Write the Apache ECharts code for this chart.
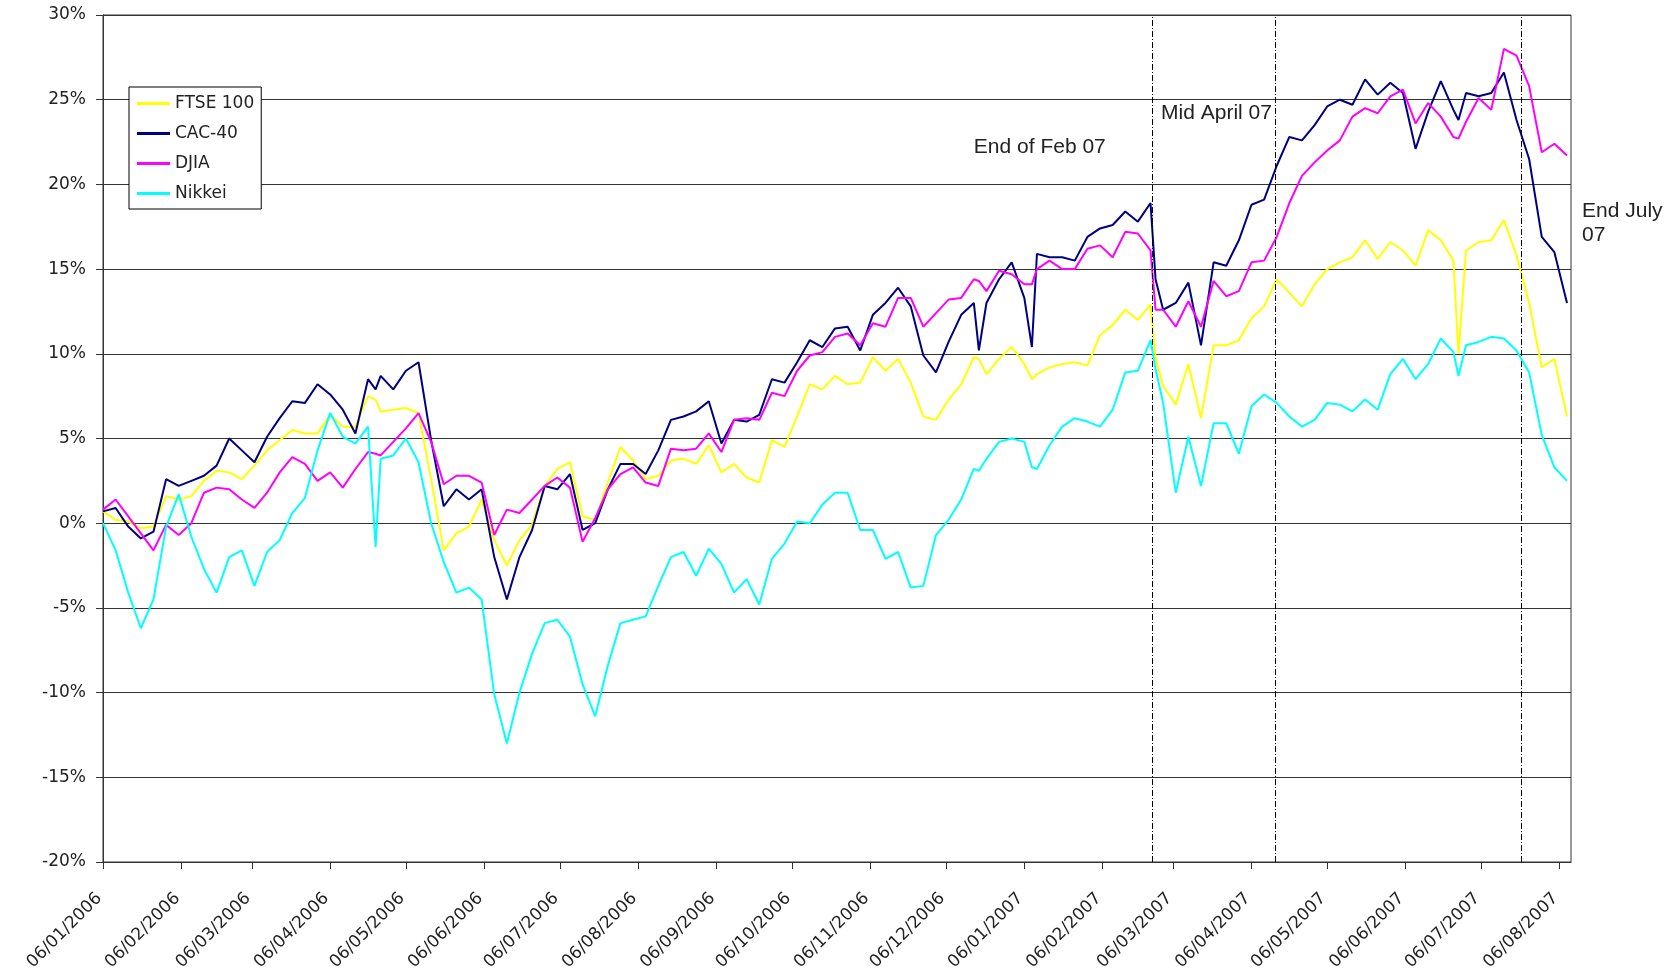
<!DOCTYPE html>
<html><head><meta charset="utf-8">
<script src="https://cdn.jsdelivr.net/npm/echarts@6/dist/echarts.min.js"></script>
<style>html,body{margin:0;padding:0;background:#fff}#c{width:1668px;height:972px}</style>
</head><body><div id="c"></div>
<script>
// ---- data ----
const dates = [
 '2006-01-06','2006-01-11','2006-01-16','2006-01-21','2006-01-26','2006-01-31',
 '2006-02-05','2006-02-10','2006-02-15','2006-02-20','2006-02-25',
 '2006-03-02','2006-03-07','2006-03-12','2006-03-17','2006-03-22','2006-03-27',
 '2006-04-01','2006-04-06','2006-04-11','2006-04-16','2006-04-21','2006-04-24','2006-04-26',
 '2006-05-01','2006-05-06','2006-05-11','2006-05-16','2006-05-21','2006-05-26','2006-05-31',
 '2006-06-05','2006-06-10','2006-06-15','2006-06-20','2006-06-25','2006-06-30',
 '2006-07-05','2006-07-10','2006-07-15','2006-07-20','2006-07-25','2006-07-30',
 '2006-08-04','2006-08-09','2006-08-14','2006-08-19','2006-08-24','2006-08-29',
 '2006-09-03','2006-09-08','2006-09-13','2006-09-18','2006-09-23','2006-09-28',
 '2006-10-03','2006-10-08','2006-10-13','2006-10-18','2006-10-23','2006-10-28',
 '2006-11-02','2006-11-07','2006-11-12','2006-11-17','2006-11-22','2006-11-27',
 '2006-12-02','2006-12-07','2006-12-12','2006-12-17','2006-12-19','2006-12-22','2006-12-27',
 '2007-01-01','2007-01-06','2007-01-09','2007-01-11','2007-01-16','2007-01-21','2007-01-26','2007-01-31',
 '2007-02-05','2007-02-10','2007-02-15','2007-02-20','2007-02-25','2007-02-27',
 '2007-03-02','2007-03-07','2007-03-12','2007-03-17','2007-03-22','2007-03-27',
 '2007-04-01','2007-04-06','2007-04-11','2007-04-16','2007-04-21','2007-04-26',
 '2007-05-01','2007-05-06','2007-05-11','2007-05-16','2007-05-21','2007-05-26','2007-05-31',
 '2007-06-05','2007-06-10','2007-06-15','2007-06-20','2007-06-25','2007-06-27','2007-06-30',
 '2007-07-05','2007-07-10','2007-07-15','2007-07-20','2007-07-25','2007-07-30',
 '2007-08-04','2007-08-09'
];
const ftse = [
 0.7,0.2,0.1,-0.3,-0.2,1.6,
 1.4,1.6,2.5,3.1,3.0,
 2.6,3.4,4.3,4.9,5.5,5.3,
 5.3,6.4,5.7,5.7,7.5,7.3,6.6,
 6.7,6.8,6.5,2.6,-1.6,-0.6,-0.2,
 1.4,-1.0,-2.5,-1.0,-0.1,2.2,
 3.2,3.6,0.4,0.2,2.4,4.5,
 3.7,2.6,2.8,3.7,3.8,3.5,
 4.6,3.0,3.5,2.7,2.4,4.9,
 4.5,6.3,8.2,7.9,8.7,8.2,
 8.3,9.8,9.0,9.7,8.3,6.3,
 6.1,7.3,8.2,9.8,9.7,8.8,9.7,
 10.4,9.4,8.5,8.8,9.2,9.4,9.5,9.3,
 11.1,11.7,12.6,12.0,12.9,9.8,
 8.1,7.0,9.4,6.2,10.5,10.5,
 10.8,12.1,12.8,14.4,13.6,12.8,
 14.1,15.0,15.4,15.7,16.7,15.6,16.6,
 16.1,15.2,17.3,16.7,15.5,10.0,16.1,
 16.6,16.7,17.9,15.8,13.0,9.2,
 9.7,6.3
];
const cac40 = [
 0.7,0.9,-0.2,-0.9,-0.5,2.6,
 2.2,2.5,2.8,3.4,5.0,
 4.3,3.6,5.1,6.2,7.2,7.1,
 8.2,7.6,6.7,5.3,8.5,7.9,8.7,
 7.9,9.0,9.5,4.9,1.0,2.0,1.4,
 2.0,-2.0,-4.5,-2.0,-0.4,2.2,
 2.0,2.9,-0.4,0.0,2.0,3.5,
 3.5,2.9,4.3,6.1,6.3,6.6,
 7.2,4.7,6.1,6.0,6.4,8.5,
 8.3,9.5,10.8,10.4,11.5,11.6,
 10.2,12.3,13.0,13.9,12.8,9.9,
 8.9,10.7,12.3,13.0,10.2,13.0,14.4,
 15.4,13.3,10.4,15.9,15.7,15.7,15.5,16.9,
 17.4,17.6,18.4,17.8,18.9,14.4,
 12.6,13.0,14.2,10.5,15.4,15.2,
 16.7,18.8,19.1,21.1,22.8,22.6,
 23.5,24.6,25.0,24.7,26.2,25.3,26.0,
 25.4,22.1,24.3,26.1,24.4,23.8,25.4,
 25.2,25.4,26.6,23.8,21.5,16.9,
 16.0,13.0
];
const djia = [
 0.8,1.4,0.4,-0.6,-1.6,-0.1,
 -0.7,0.0,1.8,2.1,2.0,
 1.4,0.9,1.8,3.0,3.9,3.5,
 2.5,3.0,2.1,3.2,4.2,4.1,4.0,
 4.8,5.6,6.5,4.8,2.3,2.8,2.8,
 2.4,-0.7,0.8,0.6,1.4,2.2,
 2.7,2.1,-1.1,0.3,2.0,2.9,
 3.3,2.4,2.2,4.4,4.3,4.4,
 5.3,4.2,6.1,6.2,6.1,7.7,
 7.5,9.0,9.9,10.1,11.0,11.2,
 10.5,11.8,11.6,13.3,13.3,11.6,
 12.4,13.2,13.3,14.4,14.3,13.7,14.9,
 14.7,14.1,14.1,15.0,15.5,15.0,15.0,16.2,
 16.4,15.7,17.2,17.1,16.1,12.6,
 12.6,11.6,13.1,11.6,14.3,13.4,
 13.7,15.4,15.5,16.9,18.9,20.5,
 21.3,22.0,22.6,24.0,24.5,24.2,25.2,
 25.6,23.6,24.8,24.0,22.8,22.7,23.7,
 25.1,24.4,28.0,27.6,25.8,21.9,
 22.4,21.7
];
const nikkei = [
 0.0,-1.6,-4.1,-6.2,-4.5,-0.2,
 1.7,-0.8,-2.7,-4.1,-2.0,
 -1.6,-3.7,-1.7,-1.0,0.6,1.5,
 4.3,6.5,5.1,4.7,5.7,-1.4,3.8,
 4.0,5.0,3.6,0.0,-2.3,-4.1,-3.8,
 -4.5,-10.1,-13.0,-10.0,-7.7,-5.9,
 -5.7,-6.7,-9.5,-11.4,-8.4,-5.9,
 -5.7,-5.5,-3.7,-2.0,-1.7,-3.1,
 -1.5,-2.4,-4.1,-3.3,-4.8,-2.1,
 -1.2,0.1,0.0,1.1,1.8,1.8,
 -0.4,-0.4,-2.1,-1.7,-3.8,-3.7,
 -0.7,0.2,1.4,3.2,3.1,3.8,4.8,
 5.0,4.8,3.3,3.2,4.6,5.7,6.2,6.0,
 5.7,6.7,8.9,9.0,10.8,9.1,
 7.1,1.8,5.1,2.2,5.9,5.9,
 4.1,6.9,7.6,7.1,6.3,5.7,
 6.1,7.1,7.0,6.6,7.3,6.7,8.8,
 9.7,8.5,9.4,10.9,10.1,8.7,10.5,
 10.7,11.0,10.9,10.2,8.9,5.2,
 3.3,2.5
];
const seriesNames = ['FTSE 100','CAC-40','DJIA','Nikkei'];
const seriesValues = [ftse, cac40, djia, nikkei];
const seriesColors = ['#FFFF00','#000080','#FF00FF','#00FFFF'];
const tickDates = [
 '2006-01-06','2006-02-06','2006-03-06','2006-04-06','2006-05-06','2006-06-06',
 '2006-07-06','2006-08-06','2006-09-06','2006-10-06','2006-11-06','2006-12-06',
 '2007-01-06','2007-02-06','2007-03-06','2007-04-06','2007-05-06','2007-06-06',
 '2007-07-06','2007-08-06'
];
const axisStart = '2006-01-06T00:00:00Z';
const axisEnd = '2007-08-10T14:00:00Z';
const yMin = -20, yMax = 30, yStep = 5;
const eventDates = ['2007-02-25T12:00:00Z','2007-04-15T07:00:00Z','2007-07-22T00:00:00Z'];
const annotations = [
 {text:'End of Feb 07', date:eventDates[0], value:22.2, align:'right', dx:-46},
 {text:'Mid April 07', date:eventDates[1], value:24.2, align:'right', dx:-3},
 {text:'End July\n07', date:axisEnd, value:17.7, align:'left', dx:11}
];

// ---- chart ----
const pad = n => (n < 10 ? '0' : '') + n;
const fmtDate = v => { const d = new Date(v); return pad(d.getUTCDate()) + '/' + pad(d.getUTCMonth()+1) + '/' + d.getUTCFullYear() + ' '; };
const tickValues = tickDates.map(d => Date.parse(d));
const AX = '#333';
const FONT = 'DejaVu Sans';

const chart = echarts.init(document.getElementById('c'), null, {renderer:'canvas'});
const option = {
  animation: false,
  backgroundColor: '#fff',
  grid: {left:103, right:97, top:15, bottom:110, show:true, borderColor:AX, borderWidth:1, containLabel:false, outerBoundsMode:'none'},
  legend: {
    orient:'vertical', left:129, top:87, data:seriesNames, icon:'rect',
    itemWidth:33, itemHeight:3, itemGap:11, padding:[7,7,6,8],
    borderColor:'#000', borderWidth:1, backgroundColor:'#fff', borderRadius:0,
    textStyle:{fontFamily:FONT, fontSize:17, color:'#222', lineHeight:19}
  },
  xAxis: {
    type:'value', min:Date.parse(axisStart), max:Date.parse(axisEnd), scale:true,
    axisLine:{show:true, onZero:false, lineStyle:{color:AX, width:1}},
    axisTick:{show:true, length:7, lineStyle:{color:AX}, customValues:tickValues},
    axisLabel:{customValues:tickValues, formatter:(v)=>fmtDate(v), rotate:45, margin:30,
      fontFamily:FONT, fontSize:17, color:'#222', hideOverlap:false},
    splitLine:{show:false}, minorTick:{show:false}
  },
  yAxis: {
    type:'value', min:yMin, max:yMax, interval:yStep,
    axisLine:{show:true, lineStyle:{color:AX, width:1}},
    axisTick:{show:true, length:7, lineStyle:{color:AX}},
    axisLabel:{formatter:'{value}%', margin:17, fontFamily:FONT, fontSize:17, color:'#222'},
    splitLine:{show:true, lineStyle:{color:AX, width:1}}
  },
  series: seriesNames.map((name, k) => {
    const s = {
      name, type:'line', showSymbol:false, symbol:'none',
      data: dates.map((d, i) => [Date.parse(d), seriesValues[k][i]]),
      lineStyle:{color:seriesColors[k], width:2},
      itemStyle:{color:seriesColors[k]},
      emphasis:{disabled:true},
      z: 2 + k
    };
    if (k === 0) {
      s.markLine = {
        silent:true, symbol:['none','none'], label:{show:false},
        lineStyle:{color:'#000', width:1, type:[6,2,1,2]},
        data: eventDates.map(d => ({xAxis: Date.parse(d)}))
      };
    }
    return s;
  })
};
chart.setOption(option);

const g = annotations.map(a => {
  const p = chart.convertToPixel({xAxisIndex:0, yAxisIndex:0}, [Date.parse(a.date), a.value]);
  return {type:'text', x:p[0] + a.dx, y:p[1], z:100,
    style:{text:a.text, fontFamily:'Liberation Sans', fontSize:21, fill:'#222',
      align:a.align, verticalAlign:'middle', lineHeight:24}};
});
chart.setOption({graphic: g});
</script>
</body></html>
